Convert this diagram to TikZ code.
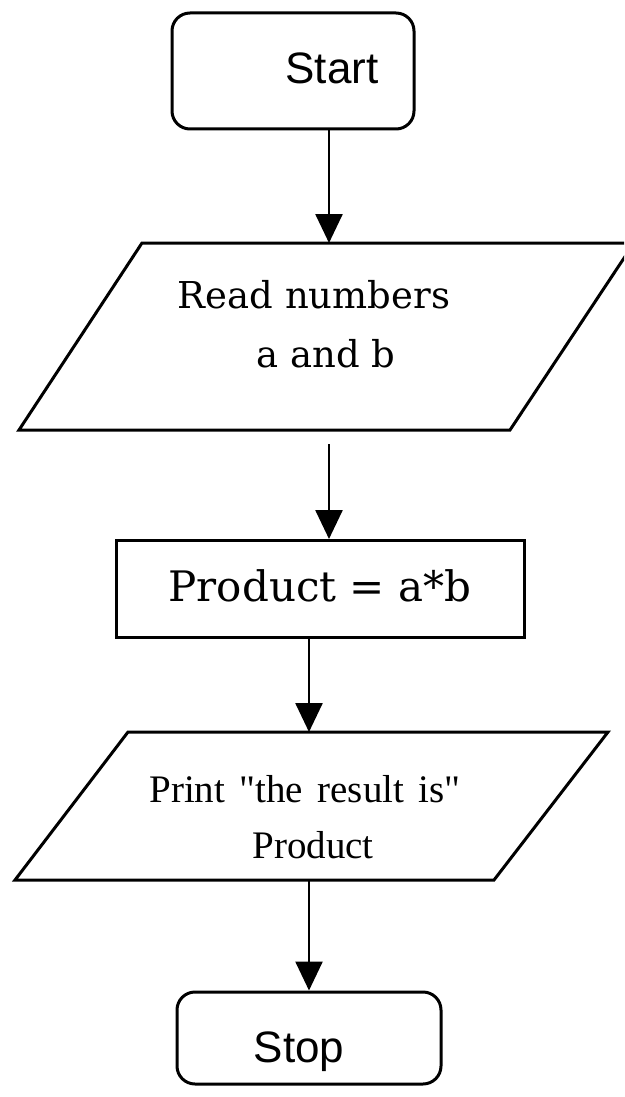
\documentclass[tikz,border=0pt]{standalone}
\usepackage{fontspec}
\setmainfont{DejaVu Serif}
\newfontfamily\sansf{Liberation Sans}
\newfontfamily\timesf{Liberation Serif}
\usetikzlibrary{arrows.meta}
\begin{document}
\begin{tikzpicture}[x=1pt,y=-1pt,
  box/.style={draw=black, line width=3pt},
  term/.style={box, rounded corners=18pt, inner sep=0pt},
  arr/.style={line width=2.6pt, -{Triangle[width=27pt,length=29pt]}},
  lbl/.style={inner sep=0pt, anchor=base},
  sanslbl/.style={lbl, font=\sansf\fontsize{44}{52}\selectfont},
  seriflbl/.style={lbl, font=\fontsize{37}{44}\selectfont},
  timeslbl/.style={lbl, font=\timesf\fontsize{39}{46}\selectfont}]
\clip (0,0) rectangle (624,1097);
\useasboundingbox (0,0) rectangle (624,1097);
\fill[white] (0,0) rectangle (624,1097);

% Start
\node[term, minimum width=242pt, minimum height=116pt] (start) at (293,71) {};
\node[sanslbl] (starttxt) at (332,84) {Start};

% Read parallelogram
\draw[box] (142,243) -- (634,243) -- (510,430) -- (19,430) -- cycle;
\coordinate (readtop) at (329,243);
\coordinate (readbot) at (329,430);
\node[seriflbl] (read1) at (314,308) {Read numbers};
\node[seriflbl] (read2) at (326,367) {a and b};

% Product
\node[box, minimum width=408pt, minimum height=97pt, inner sep=0pt] (prod) at (320,589) {};
\node[seriflbl, font=\fontsize{42}{48}\selectfont] (prodtxt) at (320,601) {Product = a*b};

% Print parallelogram
\draw[box] (128,732) -- (608,732) -- (494,880) -- (15,880) -- cycle;
\coordinate (printtop) at (309,732);
\coordinate (printbot) at (309,880);
\node[timeslbl] (print1) at (305,802) {Print\hspace{0.12em} "the\hspace{0.12em} result\hspace{0.12em} is"};
\node[timeslbl] (print2) at (313,858) {Product};

% Stop
\node[term, minimum width=264pt, minimum height=92pt] (stop) at (309,1038) {};
\node[sanslbl] (stoptxt) at (299,1062) {Stop};

% connectors
\draw[arr] (start.south -| readtop) -- (readtop);
\draw[arr] ([yshift=-14pt]readbot) -- (prod.north -| readbot);
\draw[arr] (prod.south -| printtop) -- (printtop);
\draw[arr] (printbot) -- (stop.north -| printbot);
\end{tikzpicture}
\end{document}
